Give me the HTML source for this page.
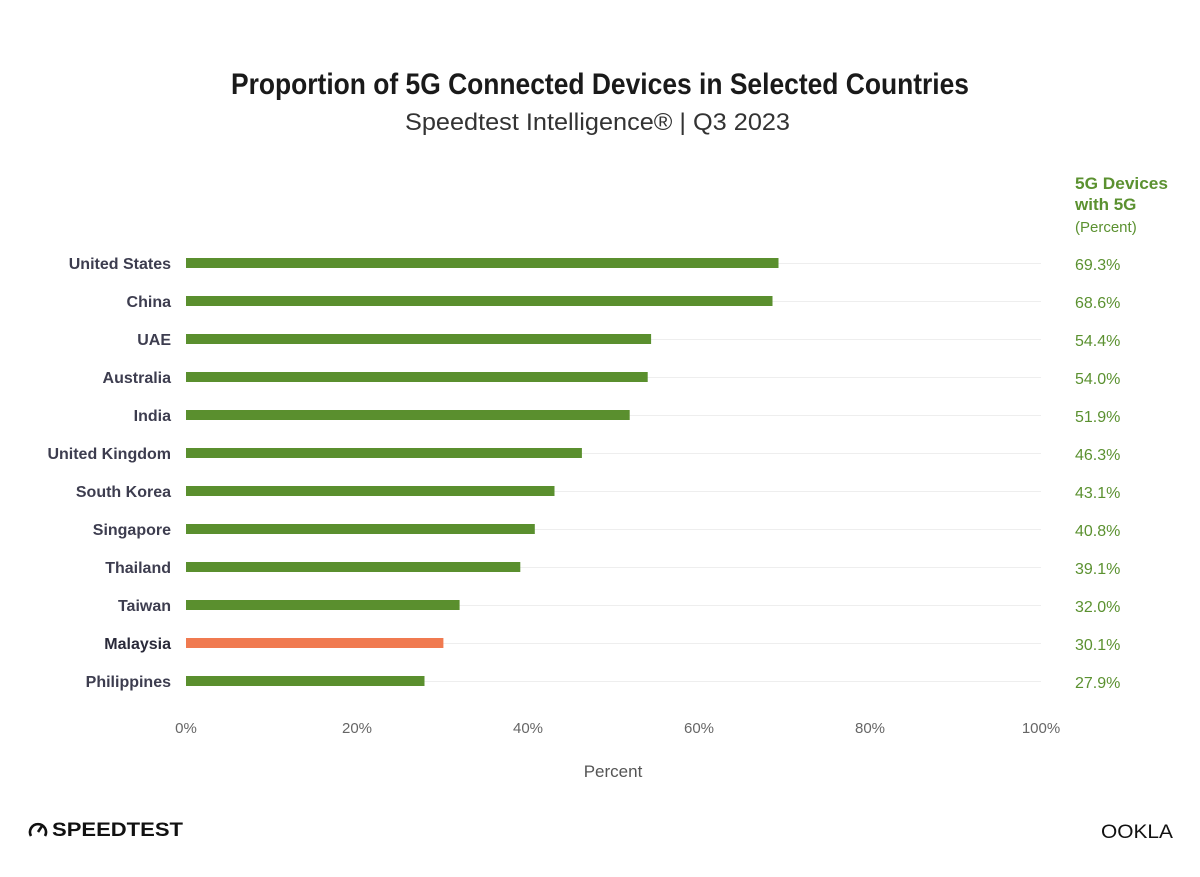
<!DOCTYPE html>
<html><head><meta charset="utf-8"><style>body{margin:0;background:#fff}</style></head><body>
<svg width="1200" height="872" xmlns="http://www.w3.org/2000/svg" font-family="Liberation Sans, sans-serif">
<rect width="1200" height="872" fill="#fff"/>
<text x="231" y="94" textLength="738" lengthAdjust="spacingAndGlyphs" font-weight="bold" font-size="30" fill="#1a1a1a">Proportion of 5G Connected Devices in Selected Countries</text>
<text x="405" y="130" textLength="385" lengthAdjust="spacingAndGlyphs" font-size="24" fill="#333">Speedtest Intelligence® | Q3 2023</text>
<g font-size="17" fill="#5b9130">
<text x="1075" y="189" font-weight="bold" textLength="93" lengthAdjust="spacingAndGlyphs">5G Devices</text>
<text x="1075" y="210" font-weight="bold">with 5G</text>
<text x="1075" y="232" font-size="15">(Percent)</text>
</g>
<g stroke="#eee" stroke-width="1">
<line x1="186" x2="1041" y1="263.5" y2="263.5"/><line x1="186" x2="1041" y1="301.5" y2="301.5"/><line x1="186" x2="1041" y1="339.5" y2="339.5"/><line x1="186" x2="1041" y1="377.5" y2="377.5"/><line x1="186" x2="1041" y1="415.5" y2="415.5"/><line x1="186" x2="1041" y1="453.5" y2="453.5"/><line x1="186" x2="1041" y1="491.5" y2="491.5"/><line x1="186" x2="1041" y1="529.5" y2="529.5"/><line x1="186" x2="1041" y1="567.5" y2="567.5"/><line x1="186" x2="1041" y1="605.5" y2="605.5"/><line x1="186" x2="1041" y1="643.5" y2="643.5"/><line x1="186" x2="1041" y1="681.5" y2="681.5"/>
</g>
<g fill="#5a8f2e">
<rect x="186" y="258" width="592.5" height="10"/>
<rect x="186" y="296" width="586.5" height="10"/>
<rect x="186" y="334" width="465.1" height="10"/>
<rect x="186" y="372" width="461.7" height="10"/>
<rect x="186" y="410" width="443.7" height="10"/>
<rect x="186" y="448" width="395.9" height="10"/>
<rect x="186" y="486" width="368.5" height="10"/>
<rect x="186" y="524" width="348.8" height="10"/>
<rect x="186" y="562" width="334.3" height="10"/>
<rect x="186" y="600" width="273.6" height="10"/>
<rect x="186" y="638" width="257.4" height="10" fill="#f07a50"/>
<rect x="186" y="676" width="238.5" height="10"/>
</g>
<g text-anchor="end" font-weight="bold" font-size="16" fill="#3d3d4f">
<text x="171" y="269">United States</text>
<text x="171" y="307">China</text>
<text x="171" y="345">UAE</text>
<text x="171" y="383">Australia</text>
<text x="171" y="421">India</text>
<text x="171" y="459">United Kingdom</text>
<text x="171" y="497">South Korea</text>
<text x="171" y="535">Singapore</text>
<text x="171" y="573">Thailand</text>
<text x="171" y="611">Taiwan</text>
<text x="171" y="649" fill="#2a2a3a">Malaysia</text>
<text x="171" y="687">Philippines</text>
</g>
<g font-size="16" fill="#5b9130">
<text x="1075" y="270">69.3%</text>
<text x="1075" y="308">68.6%</text>
<text x="1075" y="346">54.4%</text>
<text x="1075" y="384">54.0%</text>
<text x="1075" y="422">51.9%</text>
<text x="1075" y="460">46.3%</text>
<text x="1075" y="498">43.1%</text>
<text x="1075" y="536">40.8%</text>
<text x="1075" y="574">39.1%</text>
<text x="1075" y="612">32.0%</text>
<text x="1075" y="650">30.1%</text>
<text x="1075" y="688">27.9%</text>
</g>
<g font-size="15" fill="#666" text-anchor="middle">
<text x="186" y="733">0%</text><text x="357" y="733">20%</text><text x="528" y="733">40%</text><text x="699" y="733">60%</text><text x="870" y="733">80%</text><text x="1041" y="733">100%</text>
<text x="613" y="777" font-size="17" fill="#555">Percent</text>
</g>
<g transform="translate(28,819)">
<path d="M3 17 A8 8 0 1 1 17 17" fill="none" stroke="#111" stroke-width="2.6"/>
<line x1="10" y1="13" x2="14" y2="7" stroke="#111" stroke-width="2.6"/>
</g>
<text x="52" y="836" font-weight="bold" font-size="19" fill="#111" textLength="131" lengthAdjust="spacingAndGlyphs">SPEEDTEST</text>
<text x="1101" y="838" font-size="19" fill="#111" textLength="72" lengthAdjust="spacingAndGlyphs">OOKLA</text>
</svg>
</body></html>
